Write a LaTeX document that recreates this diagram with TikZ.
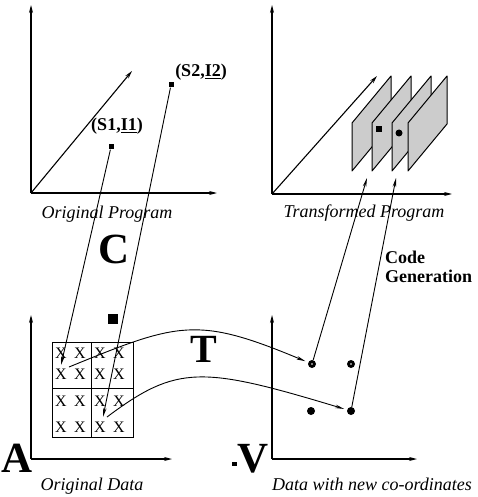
\documentclass[tikz,border=0pt]{standalone}
\usepackage{fontspec}
\setmainfont{Liberation Serif}
\usetikzlibrary{arrows.meta}
\begin{document}
\begin{tikzpicture}[x=1pt,y=-1pt,
  axis/.style={line width=1.1pt,-{Stealth[length=8pt,width=4pt]}},
  arr/.style={line width=0.9pt,-{Stealth[length=9pt,width=3.5pt]}},
  caption/.style={font=\fontsize{18}{20}\selectfont\itshape, anchor=base, inner sep=0pt},
  lab/.style={font=\fontsize{18}{20}\selectfont\bfseries, inner sep=0pt},
  big/.style={font=\fontsize{43}{45}\selectfont\bfseries, anchor=base, inner sep=0pt},
  sq/.style={fill=black, minimum size=5pt, inner sep=0pt},
  dot/.style={circle, fill=black, minimum size=8pt, inner sep=0pt},
  cell/.style={font=\fontsize{16}{16}\selectfont, inner sep=0pt},
  plane/.style={draw, line width=1pt, fill=black!20, line join=round},
]
\useasboundingbox (0,0) rectangle (477,497);

% ---------- top-left: original program ----------
\coordinate (o1) at (31,193);
\coordinate (o1y) at (31,5);
\coordinate (o1x) at (217,193);
\coordinate (o1d) at (132,71);
\draw[axis] (o1) -- (o1y);
\draw[axis] (o1) -- (o1x);
\draw[axis] (o1) -- (o1d);
\node[lab] (l1) at (117,126) {(S1,\underline{I1})};
\node[lab] (l2) at (201,72) {(S2,\underline{I2})};
\node[sq] (s1) at (111,147) {};
\node[sq] (s2) at (171,85) {};
\node[caption] (op) at (107,218) {Original Program};
\node[big] (C) at (114.5,263) {C};

% ---------- top-right: transformed program ----------
\coordinate (o2) at (272,194);
\coordinate (o2y) at (272,5);
\coordinate (o2x) at (452,194);
\coordinate (o2d) at (377,76);
\draw[axis] (o2) -- (o2y);
\draw[axis] (o2) -- (o2x);
\draw[axis] (o2) -- (o2d);
\foreach \L in {352,372,392,408}{
  \draw[plane] (\L,171) -- (\L,123) -- (\L+39,76) -- (\L+39,124) -- cycle;
}
\node[fill=black, minimum size=6pt, inner sep=0pt] (p1) at (379,129) {};
\node[circle, fill=black, minimum size=7pt, inner sep=0pt] (p2) at (399,133) {};
\node[caption] (tp) at (364,217) {Transformed Program};

% ---------- bottom-left: original data ----------
\coordinate (o3) at (31,459);
\coordinate (o3y) at (31,315);
\coordinate (o3x) at (172,459);
\draw[axis] (o3) -- (o3y);
\draw[axis] (o3) -- (o3x);
\draw[line width=1pt] (52,342) rectangle (133,437);
\draw[line width=1pt] (91.5,342) -- (91.5,437);
\draw[line width=1pt] (52,388) -- (133,388);
\foreach \cx in {61,80,100,119}{
  \foreach \cy in {353,374,401,427}{
    \node[cell] at (\cx,\cy) {X};
  }
}
\node[fill=black, minimum size=10pt, inner sep=0pt] (blk) at (113,318.5) {};
\node[big] (A) at (17.5,472) {A};
\node[caption] (od) at (92,490) {Original Data};

% ---------- bottom-right: data with new coordinates ----------
\coordinate (o4) at (272,459);
\coordinate (o4y) at (272,315);
\coordinate (o4x) at (417,459);
\draw[axis] (o4) -- (o4y);
\draw[axis] (o4) -- (o4x);
\node[dot] (d1) at (312,364) {};
\node[dot] (d2) at (351,364) {};
\node[dot] (d3) at (311,411) {};
\node[dot] (d4) at (351,411) {};
\fill[white] (d1) circle (0.8);
\fill[white] (d2) circle (0.8);
\node[fill=black, minimum size=4.5pt, inner sep=0pt] (vdot) at (234.5,464) {};
\node[big] (V) at (253.5,472) {V};
\node[caption] (dn) at (372,490) {Data with new co-ordinates};
\node[lab, align=left, anchor=base west] (cg) at (385,282) {Code\\[-1pt]Generation};
\node[big, font=\fontsize{40}{42}\selectfont\bfseries] (T) at (203.5,362) {T};

% ---------- connectors ----------
\coordinate (t1) at (61,365);
\coordinate (t2) at (103,417);
\draw[arr] (s1) -- (t1);
\draw[arr] (s2) -- (t2);

\coordinate (u0) at (69,367);
\coordinate (u1) at (107,417);
\draw[arr, shorten >=3pt] (u0) .. controls (179,322) and (197,316) .. (d1);
\draw[arr, shorten >=3pt] (u1) .. controls (177,364.5) and (202,366) .. (d4);

\coordinate (g1) at (367,178);
\coordinate (g2) at (396,178);
\draw[arr] (d1) -- (g1);
\draw[arr] (d4) -- (g2);
\end{tikzpicture}
\end{document}
